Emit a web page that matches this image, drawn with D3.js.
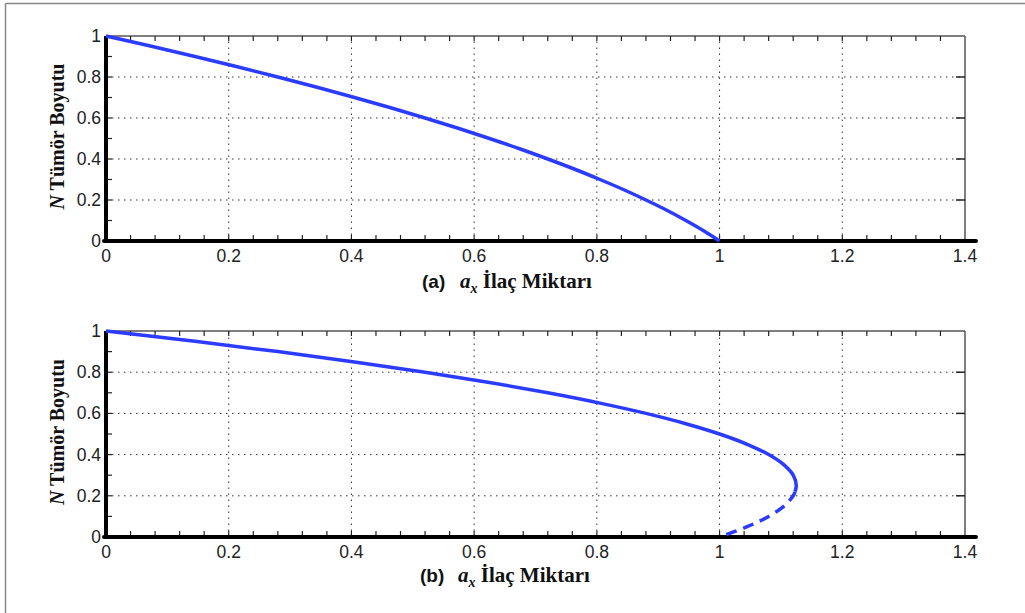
<!DOCTYPE html>
<html><head><meta charset="utf-8">
<script src="https://cdn.jsdelivr.net/npm/d3@7"></script>
<style>body{margin:0;background:#fff}svg{display:block}</style>
</head><body>
<svg id="c" width="1025" height="613"></svg>
<script>
// ---- data ----
const xTicks = [0, 0.2, 0.4, 0.6, 0.8, 1, 1.2, 1.4];
const yTicks = [0, 0.2, 0.4, 0.6, 0.8, 1];
// panel (a): drug amount a vs tumour size N
const topN = [1, 0.95, 0.9, 0.85, 0.8, 0.75, 0.7, 0.65, 0.6, 0.55, 0.5, 0.45, 0.4, 0.35, 0.3, 0.25, 0.2, 0.15, 0.1, 0.05, 0];
const topA = [0, 0.074, 0.145, 0.214, 0.28, 0.344, 0.405, 0.464, 0.52, 0.574, 0.625, 0.674, 0.72, 0.764, 0.805, 0.844, 0.88, 0.914, 0.945, 0.974, 1];
// panel (b): stable (solid) branch
const botSolidN = [1, 0.95, 0.9, 0.85, 0.8, 0.75, 0.7, 0.65, 0.6, 0.55, 0.5, 0.45, 0.4, 0.35, 0.3, 0.25, 0.22];
const botSolidA = [0, 0.145, 0.28, 0.405, 0.52, 0.625, 0.72, 0.805, 0.88, 0.945, 1.0, 1.045, 1.08, 1.105, 1.12, 1.125, 1.123];
// panel (b): unstable (dashed) branch
const botDashN = [0.22, 0.2, 0.15, 0.1, 0.05, 0];
const botDashA = [1.123, 1.12, 1.105, 1.08, 1.045, 1.0];

const svg = d3.select("#c");
const blue = "#2b3bff";
const sans = "Liberation Sans, Arial, sans-serif";
const serif = "Liberation Serif, Times New Roman, serif";

// outer frame
svg.append("line").attr("x1",5.5).attr("x2",1025).attr("y1",3.5).attr("y2",3.5).attr("stroke","#888").attr("stroke-width",1.5);
svg.append("line").attr("x1",5.5).attr("x2",5.5).attr("y1",3.5).attr("y2",613).attr("stroke","#888").attr("stroke-width",1.5);

const x = d3.scaleLinear().domain([0,1.4]).range([106,965]);

function panel(y0, y1, letter, labelX, labelY, series) {
  const y = d3.scaleLinear().domain([0,1]).range([y0,y1]);
  const g = svg.append("g");
  // grid
  g.selectAll(".gx").data(xTicks.filter(d=>d>0&&d<1.4)).join("line")
    .attr("x1",d=>x(d)).attr("x2",d=>x(d)).attr("y1",y(0)).attr("y2",y(1))
    .attr("stroke","#333").attr("stroke-width",1).attr("stroke-dasharray","1.5,4.5");
  g.selectAll(".gy").data(yTicks.filter(d=>d>0&&d<1)).join("line")
    .attr("x1",x(0)).attr("x2",x(1.4)).attr("y1",d=>y(d)).attr("y2",d=>y(d))
    .attr("stroke","#333").attr("stroke-width",1).attr("stroke-dasharray","1.5,4.5");
  // top / right box
  g.append("line").attr("x1",x(0)).attr("x2",x(1.4)).attr("y1",y(1)).attr("y2",y(1)).attr("stroke","#555").attr("stroke-width",1.5);
  g.append("line").attr("x1",x(1.4)).attr("x2",x(1.4)).attr("y1",y(1)).attr("y2",y(0)).attr("stroke","#555").attr("stroke-width",1.5);
  // minor ticks x
  const mx = d3.range(1,35).map(i=>i*0.04);
  g.selectAll(".tb").data(mx).join("line").attr("x1",d=>x(d)).attr("x2",d=>x(d))
    .attr("y1",y(0)).attr("y2",y(0)-6).attr("stroke","#222").attr("stroke-width",1.2);
  g.selectAll(".tt").data(mx).join("line").attr("x1",d=>x(d)).attr("x2",d=>x(d))
    .attr("y1",y(1)).attr("y2",y(1)+5).attr("stroke","#222").attr("stroke-width",1.2);
  const my = d3.range(1,10).map(i=>i*0.1);
  g.selectAll(".tl").data(my).join("line").attr("x1",x(0)).attr("x2",x(0)+6)
    .attr("y1",d=>y(d)).attr("y2",d=>y(d)).attr("stroke","#222").attr("stroke-width",1.2);
  g.selectAll(".tr").data(yTicks.filter(d=>d>0&&d<1)).join("line").attr("x1",x(1.4)).attr("x2",x(1.4)-9)
    .attr("y1",d=>y(d)).attr("y2",d=>y(d)).attr("stroke","#222").attr("stroke-width",1.5);
  // thick axes
  g.append("line").attr("x1",x(0)).attr("x2",x(0)).attr("y1",y(1)).attr("y2",y(0)+2).attr("stroke","#000").attr("stroke-width",4);
  g.append("line").attr("x1",x(0)-2).attr("x2",x(1.4)+11).attr("y1",y(0)).attr("y2",y(0)).attr("stroke","#000").attr("stroke-width",4).attr("stroke-linecap","round");
  // tick labels
  g.selectAll(".lx").data(xTicks).join("text").attr("x",d=>x(d)).attr("y",y(0)+21)
    .attr("text-anchor","middle").attr("font-family",sans).attr("font-size",17.5).attr("fill","#222")
    .text(d=>d3.format("")(d));
  g.selectAll(".ly").data(yTicks).join("text").attr("x",x(0)-5).attr("y",d=>y(d)+6)
    .attr("text-anchor","end").attr("font-family",sans).attr("font-size",17.5).attr("fill","#222")
    .text(d=>d3.format("")(d));
  // curves
  const line = d3.line().x(d=>x(d[0])).y(d=>y(d[1])).curve(d3.curveCatmullRom);
  series.forEach(s=>{
    g.append("path").attr("d",line(d3.zip(s.a,s.n))).attr("fill","none").attr("stroke",blue)
      .attr("stroke-width",3.5).attr("stroke-dasharray",s.dash||null).attr("stroke-linecap","butt");
  });
  // x label
  g.append("text").attr("x",labelX).attr("y",labelY).attr("font-size",19).attr("fill","#111")
    .attr("font-family",sans).attr("font-weight","bold").text(letter);
  const t = g.append("text").attr("x",labelX+38).attr("y",labelY).attr("font-size",21).attr("fill","#111")
    .attr("font-family",serif).attr("font-weight","bold");
  t.append("tspan").attr("font-style","italic").text("a");
  t.append("tspan").attr("font-style","italic").attr("font-size",14).attr("dy",5).text("x");
  t.append("tspan").attr("dy",-5).text(" İlaç Miktarı");
  // y label
  const cy = (y(0)+y(1))/2 - 2;
  const yt = g.append("text").attr("transform",`translate(64,${cy}) rotate(-90)`).attr("text-anchor","middle")
    .attr("font-family",serif).attr("font-weight","bold").attr("font-size",20).attr("fill","#111");
  yt.append("tspan").attr("font-style","italic").text("N");
  yt.append("tspan").text(" Tümör Boyutu");
}

panel(241, 36, "(a)", 422, 288, [{a: topA, n: topN}]);
panel(537, 331, "(b)", 420, 582, [{a: botSolidA, n: botSolidN}, {a: botDashA, n: botDashN, dash: "11,7"}]);
</script>
</body></html>
